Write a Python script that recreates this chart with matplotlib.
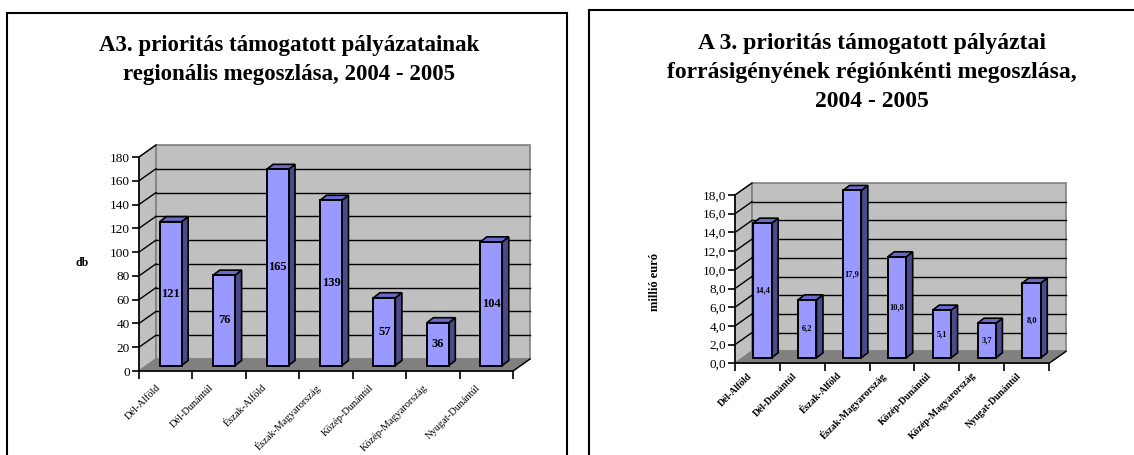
import matplotlib
matplotlib.use("Agg")
import matplotlib.pyplot as plt
from matplotlib.patches import Polygon, Rectangle
from matplotlib.transforms import ScaledTranslation

plt.rcParams['font.family'] = ['Liberation Serif', 'DejaVu Serif']

# adatok
regions = ['Dél-Alföld', 'Dél-Dunántúl', 'Észak-Alföld', 'Észak-Magyarország',
           'Közép-Dunántúl', 'Közép-Magyarország', 'Nyugat-Dunántúl']
db_values = [121, 76, 165, 139, 57, 36, 104]
euro_values = [14.4, 6.2, 17.9, 10.8, 5.1, 3.7, 8.0]

left_title = "A3. prioritás támogatott pályázatainak\nregionális megoszlása, 2004 - 2005"
right_title = "A 3. prioritás támogatott pályáztai\nforrásigényének régiónkénti megoszlása,\n2004 - 2005"

W, H = 1134, 455
fig = plt.figure(figsize=(W / 100, H / 100), dpi=100)

FRONT = '#9999FF'
SIDE = '#4B4B8C'
TOP = '#6A6ACC'
WALL = '#C0C0C0'
FLOOR = '#808080'


def px_axes(x0, x1, y0, y1):
    # y0 = pixel row of value 0, y1 = pixel row of max value
    return fig.add_axes([x0 / W, (H - y0) / H, (x1 - x0) / W, (y0 - y1) / H])


def chart(ax, values, ymax, step, fmt, tick_fs, lab_fs, xt_fs, xt_bold, xt_pad):
    n = len(values)
    ax.set_xlim(-0.5, n - 0.5)
    ax.set_ylim(0, ymax)
    bb = ax.get_position()
    ppx = bb.width * W / n          # pixel per kategória
    ppy = bb.height * H / ymax      # pixel per egység
    dx, dy = 17 / ppx, 12 / ppy     # mélység
    ox, oy = 5 / ppx, 5.5 / ppy     # oszlop eltolás
    sdx, sdy = 6.5 / ppx, 5 / ppy   # oszlop oldal
    bw = 0.41
    xl, xr = -0.5, n - 0.5

    kw = dict(clip_on=False)
    ax.add_patch(Polygon([(xl, 0), (xl + dx, dy), (xl + dx, ymax + dy), (xl, ymax)],
                         closed=True, fc=WALL, ec='#808080', lw=1, zorder=1, **kw))
    ax.add_patch(Rectangle((xl + dx, dy), n, ymax, fc=WALL, ec='#808080', lw=1.2, zorder=1, **kw))
    ax.add_patch(Polygon([(xl, 0), (xr, 0), (xr + dx, dy), (xl + dx, dy)],
                         closed=True, fc=FLOOR, ec='#808080', lw=1, zorder=1.5, **kw))
    ticks = [k * step for k in range(int(round(ymax / step)) + 1)]
    for t in ticks[1:]:
        if t < ymax:
            ax.plot([xl + dx, xr + dx], [t + dy, t + dy], color='black', lw=1, zorder=1.2, **kw)
        ax.plot([xl, xl + dx], [t, t + dy], color='black', lw=1, zorder=1.2, **kw)
    ax.plot([xr, xr + dx], [0, dy], color='black', lw=1, zorder=1.6, **kw)

    for i, v in enumerate(values):
        x0 = i + ox - bw / 2
        x1 = i + ox + bw / 2
        ax.add_patch(Polygon([(x1, oy), (x1 + sdx, oy + sdy), (x1 + sdx, oy + v + sdy), (x1, oy + v)],
                             closed=True, fc=SIDE, ec='black', lw=1.2, zorder=3, **kw))
        ax.add_patch(Polygon([(x0, oy + v), (x1, oy + v), (x1 + sdx, oy + v + sdy), (x0 + sdx, oy + v + sdy)],
                             closed=True, fc=TOP, ec='black', lw=1.2, zorder=3, **kw))
        ax.add_patch(Rectangle((x0, oy), bw, v, fc=FRONT, ec='black', lw=1.4, zorder=4, **kw))
        ax.text(i + ox, oy + v / 2, fmt(v), ha='center', va='center', fontsize=lab_fs,
                fontweight='bold', color='black', zorder=5)

    ax.set_facecolor('none')
    for s in ['top', 'right']:
        ax.spines[s].set_visible(False)
    for s in ['left', 'bottom']:
        ax.spines[s].set_linewidth(1.2)
        ax.spines[s].set_zorder(6)
    ax.set_yticks(ticks)
    ax.set_yticklabels([fmt(t) for t in ticks], fontsize=tick_fs)
    ax.tick_params(axis='y', length=5, width=1.2, pad=1.5)
    ax.set_xticks([k - 0.5 for k in range(n + 1)], minor=True)
    ax.tick_params(axis='x', which='minor', length=6, width=1.2, direction='out')
    ax.set_xticks(range(n))
    ax.set_xticklabels(regions, rotation=45, ha='right', va='center', rotation_mode='anchor',
                       fontsize=xt_fs, fontweight='bold' if xt_bold else 'normal')
    ax.tick_params(axis='x', which='major', length=0, pad=xt_pad)
    for lab in ax.get_xticklabels():
        lab.set_transform(lab.get_transform() + ScaledTranslation(-7 / 100, 0, fig.dpi_scale_trans))


ax1 = px_axes(139, 513, 371, 157)
chart(ax1, db_values, 180, 20, lambda v: str(v), 9.5, 9, 7.5, False, 11)
ax2 = px_axes(735, 1049, 363.3, 195)
chart(ax2, euro_values, 18.0, 2.0, lambda v: f"{v:.1f}".replace('.', ','), 9.5, 6, 7, True, 8)

fig.text(289 / W, 1 - 60 / H, left_title, ha='center', va='center', fontsize=16.5,
         fontweight='bold', linespacing=1.5)
fig.text(872 / W, 1 - 72.5 / H, right_title, ha='center', va='center', fontsize=17,
         fontweight='bold', linespacing=1.52)
fig.text(82 / W, 1 - 263 / H, 'db', ha='center', va='center', fontsize=8.5, fontweight='bold')
fig.text(655 / W, 1 - 282 / H, 'millió euró', ha='center', va='center', fontsize=9,
         fontweight='bold', rotation=90)

# keretek
fig.patches.append(Rectangle((7 / W, -0.1), 560 / W, 1.1 - 13 / H, transform=fig.transFigure,
                             fill=False, ec='black', lw=1.5))
fig.patches.append(Rectangle((589 / W, -0.1), 0.6, 1.1 - 10 / H, transform=fig.transFigure,
                             fill=False, ec='black', lw=1.5))

fig.savefig('out.png', dpi=100)
